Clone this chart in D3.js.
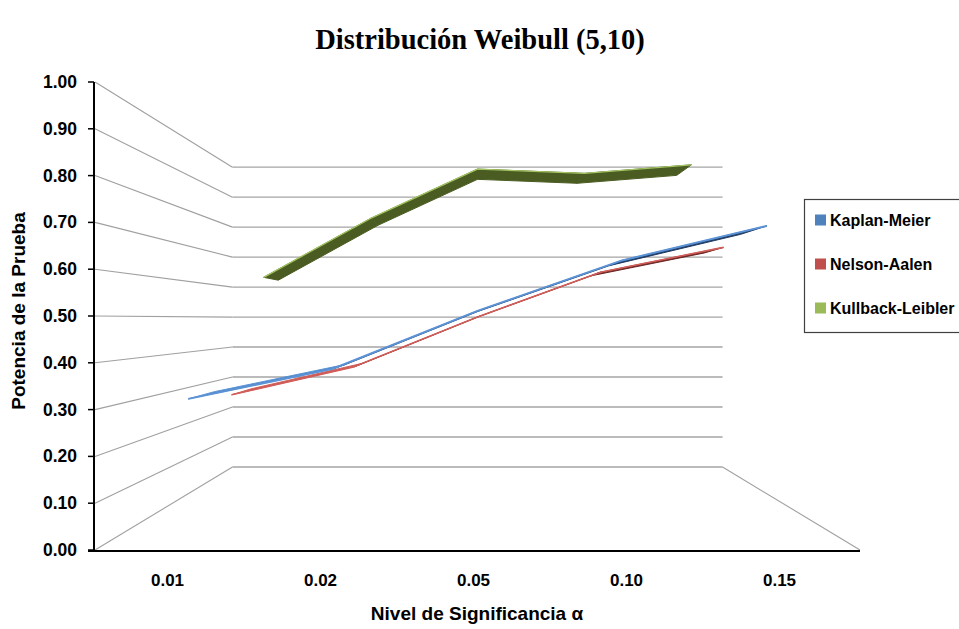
<!DOCTYPE html>
<html>
<head>
<meta charset="utf-8">
<script src="https://cdn.jsdelivr.net/npm/d3@7"></script>
<style>
  body { margin: 0; background: #ffffff; }
  svg { display: block; }
</style>
</head>
<body>
<svg id="chart" width="959" height="629"></svg>
<script>
// ---- data ----
const categories = ["0.01", "0.02", "0.05", "0.10", "0.15"];
const kaplanMeier = [0.313, 0.381, 0.512, 0.626, 0.704];
const nelsonAalen = [0.292, 0.367, 0.499, 0.618, 0.684];
const kullbackLeibler = [0.621, 0.801, 0.952, 0.939, 0.965];
const seriesNames = ["Kaplan-Meier", "Nelson-Aalen", "Kullback-Leibler"];
const yTicks = [0, 0.1, 0.2, 0.3, 0.4, 0.5, 0.6, 0.7, 0.8, 0.9, 1.0];
const yTickLabels = ["0.00", "0.10", "0.20", "0.30", "0.40", "0.50", "0.60", "0.70", "0.80", "0.90", "1.00"];

const seriesValues = [kaplanMeier, nelsonAalen, kullbackLeibler];

// ---- layout ----
const svg = d3.select("#chart");
const sans = "'Liberation Sans', Arial, sans-serif";
const serif = "'Liberation Serif', 'Times New Roman', serif";

// front plane of the 3-D box
const x = d3.scaleBand().domain(categories).range([95, 860]);
const y = d3.scaleLinear().domain([0, 1]).range([550, 82]);

// perspective: depth is the reciprocal of the on-screen scale (1 = front plane)
const vanish = [477.5, 319];
const wallDepth = 1.561;
const rowDepth = d3.scalePoint().domain(seriesNames).range([1.058, 1.431]);
const ribbonDepth = 0.105;

function project(px, py, w) {
  const s = 1 / w;
  return [vanish[0] + s * (px - vanish[0]), vanish[1] + s * (py - vanish[1])];
}

const styles = {
  "Kaplan-Meier":     { top: "#4f81bd", under: "#1f3a62", edge: "#5b93d6", lw: 2.0 },
  "Nelson-Aalen":     { top: "#c0504d", under: "#6a2422", edge: "#d25e5a", lw: 1.6 },
  "Kullback-Leibler": { top: "#9bbb59", under: "#4a5c22", edge: "#a3c462", lw: 1.3 }
};

// ---- walls & gridlines ----
const grid = svg.append("g").attr("fill", "none");
const xL = x.range()[0], xR = x.range()[1];

yTicks.forEach(v => {
  const a = project(xL, y(v), 1);
  const b = project(xL, y(v), wallDepth);
  const c = project(xR, y(v), wallDepth);
  grid.append("line")
    .attr("x1", a[0]).attr("y1", a[1]).attr("x2", b[0]).attr("y2", b[1])
    .attr("stroke", "#a0a0a0").attr("stroke-width", 1.1);
  grid.append("line")
    .attr("x1", b[0]).attr("y1", b[1]).attr("x2", c[0]).attr("y2", c[1])
    .attr("stroke", "#a4a4a4").attr("stroke-width", 1.4);
});

// floor edge on the right side
{
  const a = project(xR, y(0), wallDepth);
  const b = project(xR, y(0), 1);
  grid.append("line")
    .attr("x1", a[0]).attr("y1", a[1]).attr("x2", b[0]).attr("y2", b[1])
    .attr("stroke", "#a0a0a0").attr("stroke-width", 1.1);
}

// ---- series ribbons (back to front) ----
const ribbons = svg.append("g");
const order = seriesNames.map((n, i) => i).reverse();

order.forEach(si => {
  const name = seriesNames[si];
  const vals = seriesValues[si];
  const st = styles[name];
  const wf = rowDepth(name);
  const wb = wf + ribbonDepth;
  const cx = c => x(c) + x.bandwidth() / 2;
  const frontPts = vals.map((v, i) => project(cx(categories[i]), y(v), wf));
  const backPts = vals.map((v, i) => project(cx(categories[i]), y(v), wb));
  const g = ribbons.append("g");
  for (let i = 0; i < vals.length - 1; i++) {
    const quad = [frontPts[i], frontPts[i + 1], backPts[i + 1], backPts[i]];
    const topFace = d3.polygonArea(quad) > 0;
    g.append("path")
      .attr("d", "M" + quad.map(p => p.join(",")).join("L") + "Z")
      .attr("fill", topFace ? st.top : st.under)
      .attr("stroke", topFace ? st.edge : st.under)
      .attr("stroke-width", 1)
      .attr("stroke-linejoin", "round");
  }
  g.append("path").attr("d", d3.line()(frontPts))
    .attr("fill", "none").attr("stroke", st.edge).attr("stroke-width", st.lw)
    .attr("stroke-linejoin", "round");
});

// ---- axes ----
const axes = svg.append("g");
axes.append("line")
  .attr("x1", 94).attr("y1", y(1)).attr("x2", 94).attr("y2", 551)
  .attr("stroke", "#000").attr("stroke-width", 2);
axes.append("line")
  .attr("x1", 88).attr("y1", 551).attr("x2", xR).attr("y2", 551)
  .attr("stroke", "#000").attr("stroke-width", 2.2);

yTicks.forEach((v, i) => {
  axes.append("line")
    .attr("x1", 88).attr("y1", y(v)).attr("x2", 94).attr("y2", y(v))
    .attr("stroke", "#000").attr("stroke-width", 1.5);
  axes.append("text")
    .attr("x", 77).attr("y", y(v) + 6)
    .attr("text-anchor", "end")
    .attr("font-family", sans).attr("font-weight", "bold").attr("font-size", 17.5)
    .attr("fill", "#000")
    .text(yTickLabels[i]);
});

categories.forEach(c => {
  axes.append("text")
    .attr("x", x(c) + x.bandwidth() / 2 - 4).attr("y", 586)
    .attr("text-anchor", "middle")
    .attr("font-family", sans).attr("font-weight", "bold").attr("font-size", 17)
    .attr("fill", "#000")
    .text(c);
});

// ---- titles ----
svg.append("text")
  .attr("x", 480).attr("y", 49)
  .attr("text-anchor", "middle")
  .attr("font-family", serif).attr("font-weight", "bold").attr("font-size", 28.5)
  .attr("fill", "#000")
  .text("Distribución Weibull (5,10)");

svg.append("text")
  .attr("x", 477).attr("y", 620)
  .attr("text-anchor", "middle")
  .attr("font-family", sans).attr("font-weight", "bold").attr("font-size", 19)
  .attr("fill", "#000")
  .text("Nivel de Significancia α");

svg.append("text")
  .attr("transform", "translate(25,311) rotate(-90)")
  .attr("text-anchor", "middle")
  .attr("font-family", sans).attr("font-weight", "bold").attr("font-size", 19)
  .attr("fill", "#000")
  .text("Potencia de la Prueba");

// ---- legend ----
const legend = svg.append("g");
legend.append("rect")
  .attr("x", 804.5).attr("y", 199.5).attr("width", 160).attr("height", 133)
  .attr("fill", "#fff").attr("stroke", "#404040").attr("stroke-width", 1.2);
const legendY = d3.scalePoint().domain(seriesNames).range([220, 308]);
seriesNames.forEach(n => {
  legend.append("rect")
    .attr("x", 815).attr("y", legendY(n) - 5.5).attr("width", 11).attr("height", 11)
    .attr("fill", styles[n].top);
  legend.append("text")
    .attr("x", 830).attr("y", legendY(n) + 6)
    .attr("font-family", sans).attr("font-weight", "bold").attr("font-size", 16)
    .attr("fill", "#000")
    .text(n);
});
</script>
</body>
</html>
